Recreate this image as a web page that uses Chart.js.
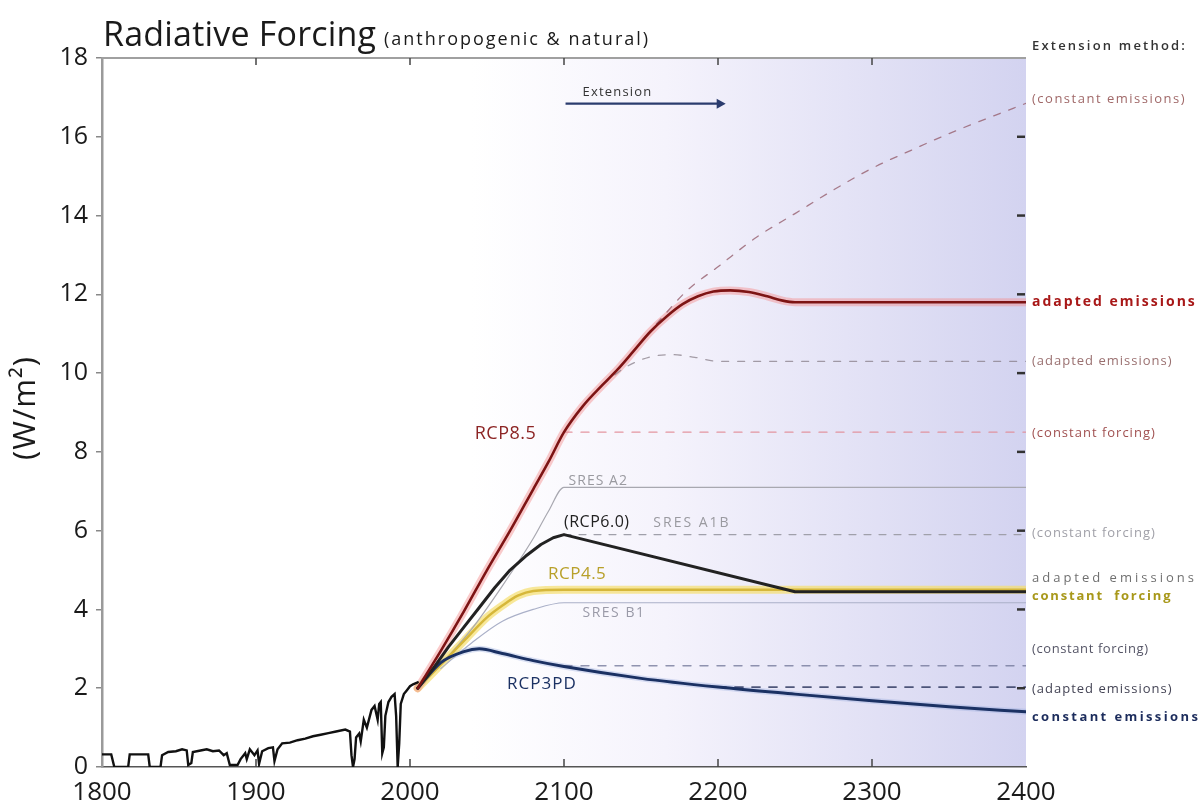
<!DOCTYPE html>
<html><head><meta charset="utf-8">
<script src="https://cdn.jsdelivr.net/npm/chart.js@4/dist/chart.umd.min.js"></script>
<style>html,body{margin:0;padding:0;background:#fff;}#wrap{width:1203px;height:810px;}</style>
</head><body><div id="wrap"><canvas id="c" width="1203" height="810"></canvas></div>
<script>
// ---- data ----
const xTicks = [1800, 1900, 2000, 2100, 2200, 2300, 2400];
const yTicks = [0, 2, 4, 6, 8, 10, 12, 14, 16, 18];

const histYears  = [1800,1806,1808,1817,1818,1830,1831,1838,1839,1843,1848,1852,1855,1856,1858,1859,1864,1868,1872,1876,1879,1881,1883,1888,1890,1893,1894,1896,1899,1901,1902,1904,1908,1911,1912,1914,1917,1922,1927,1932,1937,1942,1947,1952,1958,1961,1962,1963,1964,1965,1967,1968,1970,1972,1975,1977,1979,1980,1981,1982,1983,1984,1986,1988,1990,1991,1992,1993,1994,1996,1998,2000,2002,2005];
const histValues = [0.32,0.32,0.0,0.0,0.32,0.32,0.0,0.0,0.3,0.38,0.4,0.45,0.42,0.05,0.1,0.38,0.42,0.45,0.4,0.42,0.3,0.35,0.05,0.05,0.2,0.35,0.2,0.45,0.3,0.42,0.08,0.4,0.48,0.5,0.15,0.45,0.6,0.62,0.68,0.72,0.78,0.82,0.86,0.9,0.95,0.9,0.3,0.0,0.2,0.75,0.85,0.65,1.2,1.0,1.45,1.55,1.2,1.6,1.65,0.35,0.5,1.3,1.65,1.78,1.85,1.3,0.0,0.6,1.6,1.85,1.95,2.05,2.1,2.15];

const rcp85Years  = [2005,2020,2035,2050,2065,2080,2090,2100,2112,2125,2135,2145,2156,2167,2177,2187,2197,2208,2220,2232,2242,2250,2400];
const rcp85Values = [2.0,2.95,3.95,5.0,6.0,7.05,7.75,8.5,9.15,9.7,10.1,10.55,11.05,11.45,11.75,11.95,12.07,12.1,12.06,11.95,11.84,11.8,11.8];
const rcp85ConstEmYears  = [2160,2180,2200,2225,2250,2275,2300,2325,2350,2375,2400];
const rcp85ConstEmValues = [11.25,12.1,12.7,13.45,14.05,14.65,15.2,15.65,16.08,16.47,16.85];
const rcp85AdaptDashYears  = [2125,2140,2155,2170,2185,2200,2400];
const rcp85AdaptDashValues = [9.7,10.15,10.4,10.47,10.4,10.3,10.3];
const rcp85ConstFYears  = [2100,2400];
const rcp85ConstFValues = [8.5,8.5];

const sresA2Years  = [2020,2040,2060,2080,2090,2100,2400];
const sresA2Values = [2.6,3.5,4.6,5.8,6.5,7.1,7.1];
const sresA1bYears  = [2100,2400];
const sresA1bValues = [5.9,5.9];
const sresB1Years  = [2020,2040,2060,2080,2100,2400];
const sresB1Values = [2.5,3.15,3.7,4.0,4.17,4.17];

const rcp6Years  = [2005,2015,2025,2035,2045,2055,2065,2075,2085,2093,2100,2250,2400];
const rcp6Values = [2.0,2.5,3.05,3.55,4.05,4.55,5.0,5.35,5.65,5.82,5.9,4.45,4.45];

const rcp45Years  = [2005,2020,2035,2050,2060,2070,2080,2100,2400];
const rcp45Values = [2.0,2.6,3.2,3.8,4.1,4.35,4.47,4.5,4.5];

const rcp3Years  = [2005,2020,2035,2045,2060,2080,2100,2150,2200,2250,2300,2350,2400];
const rcp3Values = [2.0,2.65,2.93,3.0,2.88,2.7,2.55,2.25,2.03,1.85,1.68,1.53,1.4];
const rcp3ConstFYears  = [2100,2400];
const rcp3ConstFValues = [2.57,2.57];
const rcp3AdaptDashYears  = [2200,2400];
const rcp3AdaptDashValues = [2.03,2.03];

const pts = (xs, ys) => xs.map((x, i) => ({x: x, y: ys[i]}));

function ds(label, xs, ys, color, width, order, opts) {
  return Object.assign({
    label: label, data: pts(xs, ys), borderColor: color, borderWidth: width,
    pointRadius: 0, fill: false, order: order, cubicInterpolationMode: 'monotone',
    borderCapStyle: 'round', borderJoinStyle: 'round'
  }, opts || {});
}

const datasets = [
  ds('RCP8.5 glow', rcp85Years, rcp85Values, 'rgba(245,140,140,0.45)', 8, 20),
  ds('RCP4.5 glow', rcp45Years, rcp45Values, 'rgba(245,222,110,0.7)', 8, 20),
  ds('RCP3PD glow', rcp3Years, rcp3Values, 'rgba(150,170,220,0.35)', 6, 20),
  ds('RCP8.5 constant emissions', rcp85ConstEmYears, rcp85ConstEmValues, 'rgba(150,95,110,0.8)', 1.3, 8, {borderDash:[7,9]}),
  ds('RCP8.5 adapted (dashed)', rcp85AdaptDashYears, rcp85AdaptDashValues, 'rgba(130,120,130,0.7)', 1.3, 8, {borderDash:[7,9]}),
  ds('RCP8.5 constant forcing', rcp85ConstFYears, rcp85ConstFValues, 'rgba(225,140,150,0.9)', 1.3, 8, {borderDash:[8,9]}),
  ds('SRES A2', sresA2Years, sresA2Values, '#a8a8b0', 1.2, 7),
  ds('SRES A1B', sresA1bYears, sresA1bValues, '#a0a0aa', 1.2, 7, {borderDash:[7,8]}),
  ds('SRES B1', sresB1Years, sresB1Values, '#aab0c8', 1.2, 7),
  ds('RCP3PD constant forcing', rcp3ConstFYears, rcp3ConstFValues, 'rgba(110,115,150,0.75)', 1.4, 8, {borderDash:[8,9]}),
  ds('RCP3PD adapted (dashed)', rcp3AdaptDashYears, rcp3AdaptDashValues, 'rgba(40,50,90,0.8)', 1.8, 8, {borderDash:[8,9]}),
  ds('RCP4.5', rcp45Years, rcp45Values, '#d6b73a', 2.5, 5),
  ds('RCP6.0', rcp6Years, rcp6Values, '#222222', 3, 3, {cubicInterpolationMode:'default', tension:0}),
  ds('RCP3PD', rcp3Years, rcp3Values, '#1b3163', 3, 3),
  ds('RCP8.5', rcp85Years, rcp85Values, '#7d1414', 2.6, 2),
  ds('historical', histYears, histValues, '#111111', 2.4, 1, {cubicInterpolationMode:'default', tension:0, borderJoinStyle:'miter'})
];

const FONT = '"Open Sans", "DejaVu Sans", sans-serif';

const inner = [
  {t:'RCP8.5', x:2062, y:8.45, c:'#8c2424', s:18, ls:0.5, a:'center'},
  {t:'SRES A2', x:2103, y:7.25, c:'#9a9aa0', s:14, ls:1, a:'left'},
  {t:'(RCP6.0)', x:2100, y:6.2, c:'#222', s:16, ls:0.5, a:'left'},
  {t:'SRES A1B', x:2158, y:6.2, c:'#9a9aa0', s:14, ls:2, a:'left'},
  {t:'RCP4.5', x:2089.6, y:4.9, c:'#b8a02a', s:17, ls:0.5, a:'left'},
  {t:'SRES B1', x:2112, y:3.9, c:'#9a9aa8', s:14, ls:1.5, a:'left'},
  {t:'RCP3PD', x:2063, y:2.1, c:'#1b3163', s:17, ls:1, a:'left'}
];

const rightLabels = [
  {t:'(constant emissions)', y:16.95, c:'#a06868', s:13, ls:1.5, w:'normal'},
  {t:'adapted emissions', y:11.8, c:'#a81818', s:14, ls:2, w:'bold'},
  {t:'(adapted emissions)', y:10.3, c:'#9a7070', s:13, ls:1, w:'normal'},
  {t:'(constant forcing)', y:8.48, c:'#a05050', s:13, ls:1, w:'normal'},
  {t:'(constant forcing)', y:5.93, c:'#a0a0a8', s:13, ls:1, w:'normal'},
  {t:'adapted emissions', y:4.78, c:'#707070', s:13, ls:3, w:'normal'},
  {t:'constant  forcing', y:4.33, c:'#a8981a', s:13, ls:1.8, w:'bold'},
  {t:'(constant forcing)', y:3.0, c:'#556', s:13, ls:0.6, w:'normal'},
  {t:'(adapted emissions)', y:1.98, c:'#445', s:13, ls:1, w:'normal'},
  {t:'constant emissions', y:1.25, c:'#1c2c5c', s:13, ls:2.4, w:'bold'}
];

function txt(ctx, t, x, y, ls) {
  ctx.letterSpacing = (ls || 0) + 'px';
  ctx.fillText(t, x, y);
  ctx.letterSpacing = '0px';
}

const deco = {
  id: 'deco',
  beforeDraw(chart) {
    const {ctx, chartArea: a, scales: {x}} = chart;
    const g = ctx.createLinearGradient(x.getPixelForValue(2040), 0, a.right, 0);
    g.addColorStop(0, 'rgba(255,255,255,1)');
    g.addColorStop(0.35, 'rgb(245,243,252)');
    g.addColorStop(1, 'rgb(211,211,240)');
    ctx.save();
    ctx.fillStyle = g;
    ctx.fillRect(a.left, a.top, a.right - a.left, a.bottom - a.top);
    ctx.restore();
  },
  afterDraw(chart) {
    const {ctx, chartArea: a, scales: {x, y}} = chart;
    ctx.save();
    ctx.strokeStyle = '#a0a0a0'; ctx.lineWidth = 2;
    ctx.beginPath(); ctx.moveTo(a.left, a.top); ctx.lineTo(a.right, a.top); ctx.stroke();
    ctx.strokeStyle = '#444'; ctx.lineWidth = 1.5;
    xTicks.forEach(v => {
      if (v === 1800 || v === 2400) return;
      const px = x.getPixelForValue(v);
      ctx.beginPath(); ctx.moveTo(px, a.top); ctx.lineTo(px, a.top + 7); ctx.stroke();
      ctx.beginPath(); ctx.moveTo(px, a.bottom); ctx.lineTo(px, a.bottom - 8); ctx.stroke();
    });
    ctx.strokeStyle = '#333'; ctx.lineWidth = 2.5;
    yTicks.forEach(v => {
      if (v === 0 || v === 18) return;
      const py = y.getPixelForValue(v);
      ctx.beginPath(); ctx.moveTo(a.right - 9, py); ctx.lineTo(a.right - 1, py); ctx.stroke();
    });
    ctx.textBaseline = 'middle';
    inner.forEach(l => {
      ctx.font = l.s + 'px ' + FONT;
      ctx.fillStyle = l.c; ctx.textAlign = l.a;
      txt(ctx, l.t, x.getPixelForValue(l.x), y.getPixelForValue(l.y), l.ls);
    });
    const ay = y.getPixelForValue(16.84);
    const ax0 = x.getPixelForValue(2101), ax1 = x.getPixelForValue(2205);
    ctx.strokeStyle = '#2b3c6e'; ctx.fillStyle = '#2b3c6e'; ctx.lineWidth = 2.2;
    ctx.beginPath(); ctx.moveTo(ax0, ay); ctx.lineTo(ax1 - 6, ay); ctx.stroke();
    ctx.beginPath(); ctx.moveTo(ax1, ay); ctx.lineTo(ax1 - 9, ay - 5); ctx.lineTo(ax1 - 9, ay + 5); ctx.closePath(); ctx.fill();
    ctx.font = '13px ' + FONT; ctx.fillStyle = '#333'; ctx.textAlign = 'left';
    txt(ctx, 'Extension', x.getPixelForValue(2112), y.getPixelForValue(17.14), 1.2);
    const rx = a.right + 6;
    rightLabels.forEach(l => {
      ctx.font = l.w + ' ' + l.s + 'px ' + FONT;
      ctx.fillStyle = l.c; ctx.textAlign = 'left';
      txt(ctx, l.t, rx, y.getPixelForValue(l.y), l.ls);
    });
    ctx.font = '600 13px ' + FONT; ctx.fillStyle = '#333';
    txt(ctx, 'Extension method:', rx, a.top - 12, 2.2);
    ctx.textBaseline = 'alphabetic';
    ctx.fillStyle = '#1a1a1a';
    ctx.font = '34px ' + FONT;
    txt(ctx, 'Radiative Forcing', 103, 46, 0.2);
    ctx.font = '18px ' + FONT;
    txt(ctx, '(anthropogenic & natural)', 384, 45, 2);
    ctx.save();
    ctx.translate(26, 408); ctx.rotate(-Math.PI / 2);
    ctx.textAlign = 'center'; ctx.textBaseline = 'middle';
    ctx.font = '31px ' + FONT; ctx.fillStyle = '#1a1a1a';
    txt(ctx, '(W/m²)', 0, 0, 1);
    ctx.restore();
    ctx.restore();
  }
};

new Chart(document.getElementById('c'), {
  type: 'line',
  data: { datasets: datasets },
  options: {
    responsive: false, animation: false, events: [],
    layout: { padding: { left: 0, right: 177, top: 58, bottom: 0 } },
    plugins: { legend: { display: false }, tooltip: { enabled: false }, title: { display: false } },
    scales: {
      x: {
        type: 'linear', min: 1800, max: 2400,
        afterBuildTicks: s => { s.ticks = xTicks.map(v => ({value: v})); },
        afterFit: s => { s.height = 43; },
        grid: { display: false },
        border: { display: true, color: '#555', width: 1.5 },
        ticks: { font: { size: 26, family: FONT }, color: '#1a1a1a', padding: 2, maxRotation: 0, autoSkip: false, callback: v => String(v) }
      },
      y: {
        min: 0, max: 18,
        afterBuildTicks: s => { s.ticks = yTicks.map(v => ({value: v})); },
        afterFit: s => { s.width = 102; },
        grid: { display: true, drawOnChartArea: false, tickLength: 6, color: '#888', lineWidth: 1.5 },
        border: { display: true, color: '#9a9a9a', width: 2.5 },
        ticks: { font: { size: 25, family: FONT }, color: '#1a1a1a', padding: 8, callback: v => String(v) }
      }
    }
  },
  plugins: [deco]
});
</script>
</body></html>
